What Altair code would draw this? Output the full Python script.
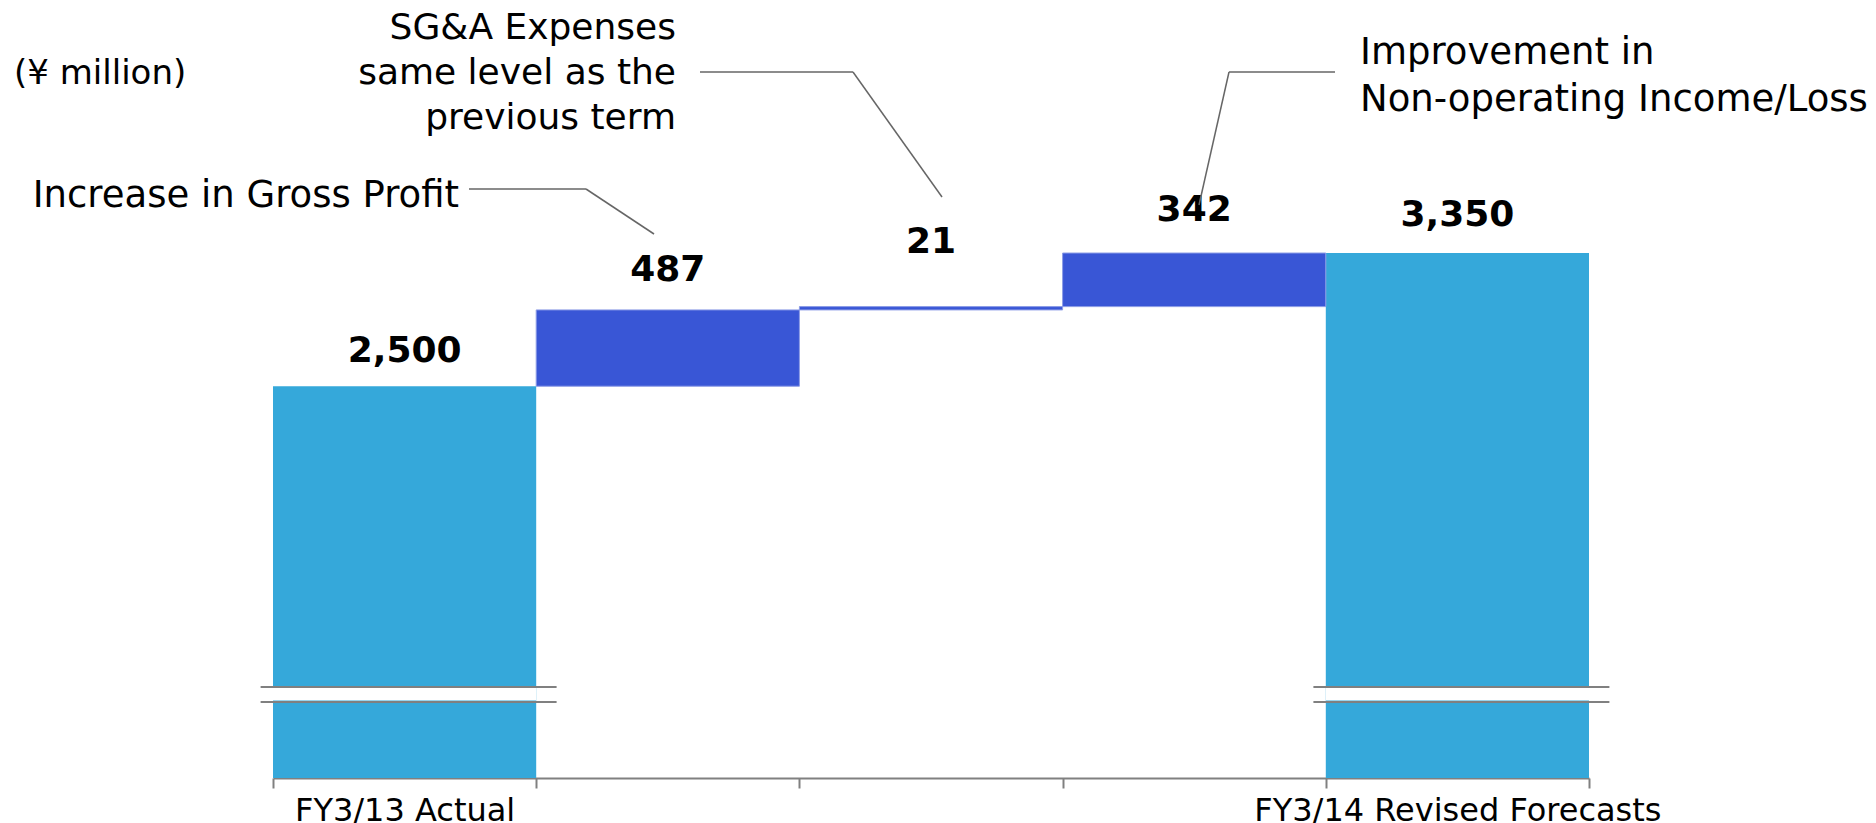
import altair as alt
import pandas as pd

# ---- data ----
categories = ["FY3/13 Actual", "Increase in Gross Profit", "SG&A Expenses",
              "Non-operating Income/Loss", "FY3/14 Revised Forecasts"]
values = [2500, 487, 21, 342, 3350]
kinds = ["total", "delta", "delta", "delta", "total"]
value_labels = ["2,500", "487", "21", "342", "3,350"]
shown_axis_labels = ["FY3/13 Actual", "FY3/14 Revised Forecasts"]

# axis-break decoration (in value units)
break_gap = [495, 580]
break_lines = [580, 485]

# ---- styles ----
FONT = "DejaVu Sans"
TOTAL_COLOR = "#35A8DA"
DELTA_COLOR = "#3956D6"
GREY = "#808080"
LEADER = "#666666"
label_gap_px = [24, 29, 54, 32, 27]

starts, ends = [], []
running = 0
for v, k in zip(values, kinds):
    if k == "total":
        starts.append(0)
        ends.append(v)
        running = v
    else:
        starts.append(running)
        ends.append(running + v)
        running += v

df = pd.DataFrame({"category": categories, "value": values, "kind": kinds,
                   "start": starts, "end": ends, "label": value_labels,
                   "idx": list(range(len(categories)))})

label_expr = " || ".join([f"datum.value == '{s}'" for s in shown_axis_labels])
label_expr = f"({label_expr}) ? datum.value : ''"

xenc = alt.X("category:N", sort=categories,
             scale=alt.Scale(paddingInner=0, paddingOuter=0),
             axis=alt.Axis(title=None, labelAngle=0, labelExpr=label_expr,
                           labelFont=FONT, labelFontSize=32, labelColor="black",
                           labelPadding=7, labelOverlap=False, labelBound=False,
                           labelLimit=1000,
                           domainColor=GREY, domainWidth=2, tickColor=GREY,
                           tickWidth=2, tickSize=10, tickBand="extent", grid=False))
yscale = alt.Scale(domain=[0, 4837], nice=False, zero=True)

base = alt.Chart(df)

totals = base.mark_bar(color=TOTAL_COLOR).encode(
    x=xenc, y=alt.Y("start:Q", scale=yscale, axis=None), y2="end:Q"
).transform_filter("datum.kind == 'total'")

deltas = base.mark_bar(color=DELTA_COLOR, stroke="#8C9CE6", strokeWidth=1).encode(
    x=xenc, y=alt.Y("start:Q", scale=yscale, axis=None), y2="end:Q"
).transform_filter("datum.kind == 'delta'")

gap = base.mark_bar(color="white").encode(
    x=xenc, y=alt.Y(datum=break_gap[0], scale=yscale, axis=None),
    y2=alt.Y2(datum=break_gap[1])
).transform_filter("datum.kind == 'total'")

break_layers = []
for b in break_lines:
    break_layers.append(
        base.mark_tick(orient="horizontal", size=296, thickness=2, color=GREY,
                       opacity=1, xOffset=4).encode(
            x=xenc, y=alt.Y(datum=b, scale=yscale, axis=None)
        ).transform_filter("datum.kind == 'total'")
    )

label_layers = []
for i, g in enumerate(label_gap_px):
    label_layers.append(
        base.mark_text(font=FONT, fontSize=36, fontWeight="bold", color="black",
                       baseline="alphabetic", align="center", dy=-g).encode(
            x=xenc, y=alt.Y("end:Q", scale=yscale, axis=None), text="label:N"
        ).transform_filter(f"datum.idx == {i}")
    )

one = pd.DataFrame({"a": [0]})


def seg(x1, y1, x2, y2):
    return alt.Chart(one).mark_rule(color=LEADER, strokeWidth=1.5).encode(
        x=alt.value(x1), y=alt.value(y1), x2=alt.value(x2), y2=alt.value(y2))


def txt(s, x, y, align, size=36):
    return alt.Chart(one).mark_text(font=FONT, fontSize=size, color="black",
                                    align=align, baseline="alphabetic").encode(
        x=alt.value(x), y=alt.value(y), text=alt.value(s))


annotations = [
    txt("(¥ million)", -259, 64, "left", 34),
    txt("SG&A Expenses", 403, 19, "right"),
    txt("same level as the", 403, 64, "right"),
    txt("previous term", 403, 109, "right"),
    txt("Increase in Gross Profit", 186, 187, "right", 37),
    txt("Improvement in", 1087, 44, "left", 37),
    txt("Non-operating Income/Loss", 1087, 91, "left", 37),
    seg(196, 169, 313, 169), seg(313, 169, 381, 214),
    seg(427, 52, 580, 52), seg(580, 52, 669, 177),
    seg(1062, 52, 956, 52), seg(956, 52, 926, 185),
]

chart = alt.layer(totals, deltas, gap, *break_layers, *label_layers, *annotations).properties(
    width=1316, height=758,
    padding={"left": 265, "top": 12, "right": 279, "bottom": 45},
    autosize=alt.AutoSizeParams(type="none"),
).configure_view(stroke=None)

chart.save("out.html", embed_options={"renderer": "svg", "actions": False})
